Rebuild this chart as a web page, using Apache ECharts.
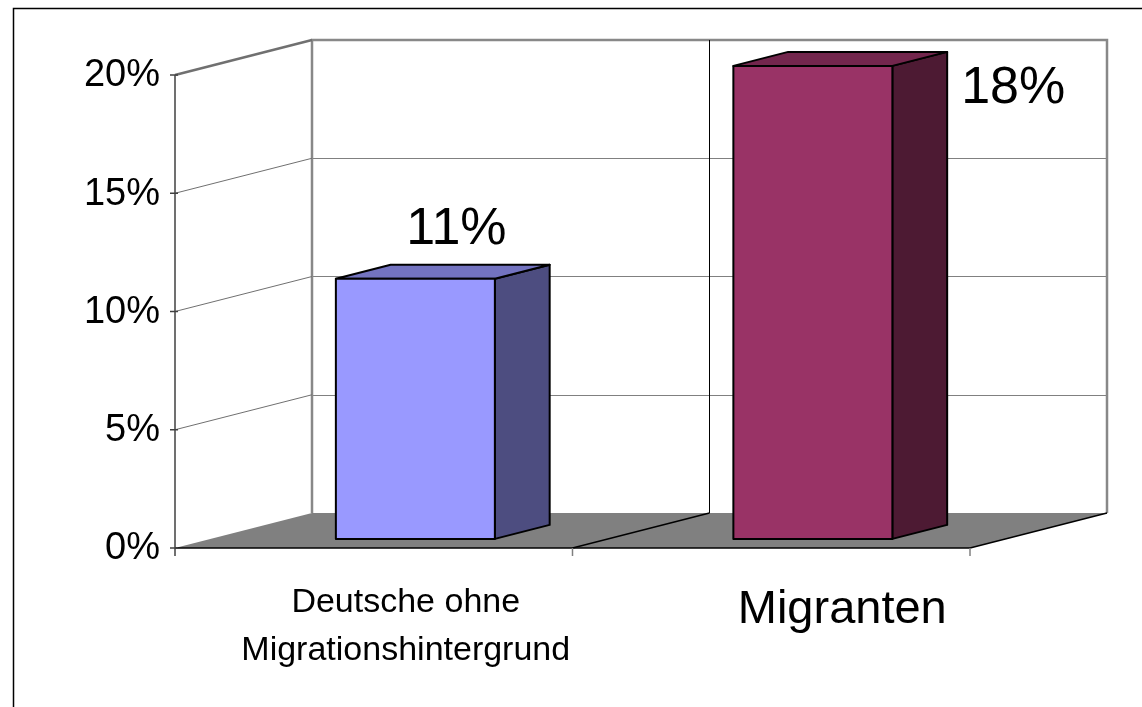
<!DOCTYPE html>
<html>
<head>
<meta charset="utf-8">
<script src="https://cdn.jsdelivr.net/npm/echarts@6/dist/echarts.min.js"></script>
<style>html,body{margin:0;padding:0;background:#fff}#main{width:1142px;height:707px}</style>
</head>
<body>
<div id="main"></div>
<script>
var categories = ['Deutsche ohne\nMigrationshintergrund', 'Migranten'];
var barValues = [11, 20];
var valueLabels = ['11%', '18%'];
var yTicks = [0, 5, 10, 15, 20];

var frontColors = ['#9999FF', '#993366'];
var topColors = ['#7373C0', '#73264D'];
var sideColors = ['#4D4D80', '#4D1A33'];
var catFont = [34, 47];
var catShift = [[32, 2], [71, 34]];

var FONT = '"Liberation Sans", Arial, sans-serif';
var DEPTH = [-137, 35]; // front plane relative to back wall
var BAR_FRONT = 0.74, BAR_BACK = 0.34, BAR_SHIFT = 6;
var yMax = yTicks[yTicks.length - 1];

function off(p, f) {
	return [p[0] + DEPTH[0] * f, p[1] + DEPTH[1] * f];
}
function line(a, b, color, w) {
	return {type: 'line', shape: {x1: a[0], y1: a[1], x2: b[0], y2: b[1]}, style: {stroke: color, lineWidth: w}};
}

var myChart = echarts.init(document.getElementById('main'));

function renderFrame(params, api) {
	var n = categories.length;
	var bw = api.size([1, 0])[0];
	var b0 = api.coord([0, 0]);
	var left = b0[0] - bw / 2, right = left + bw * n;
	var bottom = b0[1], top = api.coord([0, yMax])[1];
	var kids = [];

	// floor
	kids.push({type: 'polygon', shape: {points: [[left, bottom], [right, bottom], off([right, bottom], 1), off([left, bottom], 1)]},
		style: {fill: '#808080'}});

	// back wall frame + inner dividers
	kids.push({type: 'polyline', shape: {points: [[left, bottom], [left, top], [right, top], [right, bottom]]},
		style: {stroke: '#888', lineWidth: 2.5, fill: null}});
	for (var i = 1; i < n; i++) {
		var x = left + bw * i;
		kids.push(line([x, top], [x, bottom], '#000', 1));
	}

	// floor edges and category ticks
	kids.push(line(off([left, bottom], 1), off([right, bottom], 1), '#000', 1.5));
	for (var j = 1; j <= n; j++) {
		var xb = left + bw * j;
		var fp = off([xb, bottom], 1);
		kids.push(line(fp, [xb, bottom], '#000', 1.5));
		kids.push(line([fp[0], fp[1]], [fp[0], fp[1] + 8], '#808080', 1.5));
	}

	// front value axis
	var fTop = off([left, top], 1), fBot = off([left, bottom], 1);
	kids.push(line(fTop, [fBot[0], fBot[1] + 8], '#404040', 1.5));
	yTicks.forEach(function (v) {
		var yb = api.coord([0, v])[1];
		var p = off([left, yb], 1);
		if (v > 0) kids.push(line(p, [left, yb], '#707070', v === yMax ? 2.5 : 1));
		kids.push(line([p[0] - 5, p[1]], [p[0] + 3, p[1]], '#404040', 1.5));
		kids.push({type: 'text', x: p[0] - 15, y: p[1] + 1,
			style: {text: v + '%', fontSize: 38, fontFamily: FONT, fill: '#000', align: 'right', verticalAlign: 'middle'}});
	});

	// category labels
	categories.forEach(function (c, k) {
		var p = off([left + bw * (k + 0.5), bottom], 1);
		kids.push({type: 'text', x: p[0] + catShift[k][0], y: p[1] + 28 + catShift[k][1],
			style: {text: c, fontSize: catFont[k], lineHeight: catFont[k] * 1.42, fontFamily: FONT, fill: '#000',
				align: 'center', verticalAlign: k === 0 ? 'top' : 'middle'}});
	});
	return {type: 'group', children: kids};
}

function renderBar(params, api) {
	var i = api.value(0), v = api.value(1);
	var bw = api.size([1, 0])[0] * 0.4;
	var base = api.coord([i, 0]), tp = api.coord([i, v]);
	var fb = off([base[0] + BAR_SHIFT, base[1]], BAR_FRONT);
	var ft = off([base[0] + BAR_SHIFT, tp[1]], BAR_FRONT);
	var dx = DEPTH[0] * (BAR_BACK - BAR_FRONT), dy = DEPTH[1] * (BAR_BACK - BAR_FRONT);
	var x0 = fb[0] - bw / 2, x1 = fb[0] + bw / 2, yb = fb[1], yt = ft[1];
	var st = {stroke: '#000', lineWidth: 2, lineJoin: 'round'};
	var lbl;
	if (v >= yMax) {
		lbl = {type: 'text', x: x1 + dx + 14, y: yt + 23,
			style: {text: valueLabels[i], fontSize: 52, fontFamily: FONT, fill: '#000', align: 'left', verticalAlign: 'middle'}};
	} else {
		lbl = {type: 'text', x: fb[0] + dx * 0.75, y: yt + dy - 35,
			style: {text: valueLabels[i], fontSize: 52, fontFamily: FONT, fill: '#000', align: 'center', verticalAlign: 'middle'}};
	}
	return {type: 'group', children: [
		{type: 'polygon', shape: {points: [[x1, yt], [x1, yb], [x1 + dx, yb + dy], [x1 + dx, yt + dy]]},
			style: Object.assign({fill: sideColors[i]}, st)},
		{type: 'polygon', shape: {points: [[x0, yt], [x1, yt], [x1 + dx, yt + dy], [x0 + dx, yt + dy]]},
			style: Object.assign({fill: topColors[i]}, st)},
		{type: 'rect', shape: {x: x0, y: yt, width: bw, height: yb - yt},
			style: Object.assign({fill: frontColors[i]}, st)},
		lbl
	]};
}

var option = {
	animation: false,
	backgroundColor: '#fff',
	graphic: [{type: 'rect', shape: {x: 13.5, y: 8.5, width: 1200, height: 800},
		style: {fill: null, stroke: '#000', lineWidth: 1.5}, z: 100}],
	grid: {left: 312, right: 35, top: 40, bottom: 194},
	xAxis: {type: 'category', data: categories, axisLine: {show: false}, axisTick: {show: false},
		axisLabel: {show: false}, splitLine: {show: false}},
	yAxis: {type: 'value', min: 0, max: yMax, interval: 5, axisLine: {show: false}, axisTick: {show: false},
		axisLabel: {show: false}, splitLine: {lineStyle: {color: '#808080', width: 1.2}}},
	series: [
		{type: 'custom', clip: false, z: 1, data: [[0, 0]], renderItem: renderFrame, silent: true},
		{type: 'custom', clip: false, z: 2, renderItem: renderBar,
			data: barValues.map(function (v, i) { return [i, v]; })}
	]
};
myChart.setOption(option);
</script>
</body>
</html>
